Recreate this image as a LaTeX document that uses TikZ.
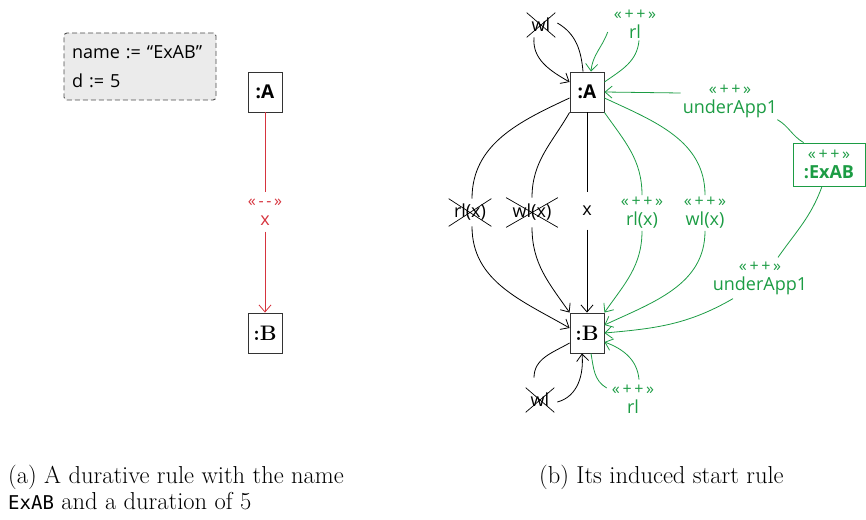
\documentclass[tikz,border=0pt]{standalone}
\usepackage{fontspec}
\usetikzlibrary{arrows.meta,shapes.misc}
\newfontfamily\dfont{Open Sans}
\newfontfamily\capmono{DejaVu Sans Mono}
\definecolor{rulered}{RGB}{214,52,62}
\definecolor{rulegreen}{RGB}{28,156,68}
\definecolor{attrfill}{RGB}{235,235,235}
\newcommand\ppst{{\fontsize{16}{17}\selectfont«\,+\,+\,»}}
\newcommand\mmst{{\fontsize{16}{17}\selectfont«\,-\,-\,»}}

\tikzset{
  lbl/.style={font=\dfont\fontsize{18}{19}\selectfont},
  objbox/.style={draw=black!80, line width=0.9pt, minimum width=34pt,
    minimum height=40pt, inner sep=0pt, fill=white},
  barbend/.style={-{Straight Barb[length=7pt,width=12pt]}},
  conn/.style={line width=0.8pt, black},
  gconn/.style={line width=0.8pt, rulegreen},
  rconn/.style={line width=0.8pt, rulered},
  xbox/.style={lbl, cross out, draw=black, line width=0.7pt,
    minimum width=28pt, minimum height=24pt, inner sep=0pt},
  glbl/.style={lbl, text=rulegreen, align=center, inner sep=2pt},
  rlbl/.style={lbl, text=rulered, align=center, inner sep=2pt},
  gbox/.style={lbl, draw=rulegreen, text=rulegreen, line width=0.9pt,
    align=center, minimum width=72pt, minimum height=43pt, inner sep=0pt},
  attr/.style={draw=black!70, dash pattern=on 5pt off 3pt, rounded corners=3pt,
    fill=attrfill, line width=0.9pt, text width=136pt, align=left,
    minimum height=67pt, inner xsep=8pt,
    font=\dfont\fontsize{18}{29}\selectfont},
  captxt/.style={font=\fontsize{24.5}{26}\selectfont, inner sep=0pt, anchor=base west}
}

\begin{document}
\begin{tikzpicture}[x=1pt,y=1pt]
\path[use as bounding box] (0,0) rectangle (866,-519);

% ---- (a) durative rule ----
\node[attr] (attrs) at (140,-66.5) {name := “ExAB”\\d := 5};
\node[objbox,font=\dfont\bfseries\fontsize{19}{19}\selectfont] (lA) at (265,-92) {:A};
\node[objbox,font=\rmfamily\bfseries\fontsize{21}{21}\selectfont] (lB) at (265,-333) {:B};
\node[rlbl,minimum height=39pt] (lx) at (265,-212) {\mmst\\x};
\draw[rconn] (lA) -- (lx);
\draw[rconn,barbend] (lx) -- (lB);

% ---- (b) induced start rule ----
\node[objbox,font=\dfont\bfseries\fontsize{19}{19}\selectfont] (rA) at (587,-92) {:A};
\node[objbox,font=\rmfamily\bfseries\fontsize{21}{21}\selectfont] (rB) at (587,-333) {:B};

% loops on :A
\node[xbox] (wlA) at (541,-25) {wl};
\draw[conn] ([xshift=-4pt]rA.north) to[out=95,in=-30] ([xshift=2pt,yshift=2pt]wlA.east);
\draw[conn,barbend] ([xshift=-7pt]wlA.south) to[out=-95,in=150] ([yshift=10pt]rA.west);

\node[glbl] (rlA) at (635,-24) {\ppst\\rl};
\draw[gconn] ([yshift=10pt]rA.east) to[out=35,in=-95] ([xshift=4pt]rlA.south);
\draw[gconn,barbend] ([xshift=-4pt,yshift=-8pt]rlA.west) to[out=-110,in=85] ([xshift=4pt]rA.north);

% application condition object
\node[gbox] (ExAB) at (829,-164.5) {\ppst\\\textbf{:ExAB}};
\node[glbl] (uA1) at (730,-101) {\ppst\\underApp1};
\draw[gconn] ([xshift=11pt]ExAB.north west) to[out=150,in=-30] ([xshift=-2pt]uA1.south east);
\draw[gconn,barbend] ([yshift=8pt]uA1.west) -- (rA.east);

\node[glbl] (uA2) at (760,-278) {\ppst\\underApp1};
\draw[gconn] ([xshift=-7pt]ExAB.south) to[out=-110,in=55] ([xshift=18pt,yshift=2pt]uA2.north);
\draw[gconn,barbend] ([xshift=-27pt,yshift=-2pt]uA2.south) to[out=-150,in=5] (rB.east);

% edges from :A to :B
\node[xbox,minimum width=42pt,minimum height=27pt] (rlx) at (470,-212.5) {rl(x)};
\node[xbox,minimum width=51pt,minimum height=29pt] (wlx) at (532,-212.5) {wl(x)};
\node[lbl,minimum height=37pt,inner sep=0pt] (xl) at (587,-211) {x};
\node[glbl] (grx) at (642,-213) {\ppst\\rl(x)};
\node[glbl] (gwx) at (705,-213) {\ppst\\wl(x)};

\draw[conn] ([yshift=-6pt]rA.west) to[out=205,in=90] ([xshift=2pt]rlx.north);
\draw[conn,barbend] ([xshift=2pt]rlx.south) to[out=-90,in=150] ([yshift=5pt]rB.west);
\draw[conn] (rA.south west) to[out=240,in=90] (wlx.north);
\draw[conn,barbend] (wlx.south) to[out=-90,in=125] (rB.north west);
\draw[conn] (rA) -- (xl);
\draw[conn,barbend] (xl) -- (rB);
\draw[gconn] (rA.south east) to[out=-55,in=90] (grx.north);
\draw[gconn,barbend] (grx.south) to[out=-90,in=55] (rB.north east);
\draw[gconn] ([yshift=-6pt]rA.east) to[out=-25,in=90] (gwx.north);
\draw[gconn,barbend] (gwx.south) to[out=-90,in=25] ([yshift=8pt]rB.east);

% loops on :B
\node[xbox] (wlB) at (540,-400) {wl};
\draw[conn] ([yshift=-10pt]rB.west) to[out=210,in=90] ([xshift=-6pt,yshift=10pt]wlB.north);
\draw[conn,barbend] ([xshift=3pt,yshift=-2pt]wlB.east) to[out=15,in=-85] ([xshift=-5pt]rB.south);

\node[glbl] (rlB) at (633,-399) {\ppst\\rl};
\draw[gconn] ([xshift=4pt]rB.south) to[out=-80,in=150] ([xshift=-3pt,yshift=11pt]rlB.west);
\draw[gconn,barbend] ([xshift=6pt,yshift=3pt]rlB.north) to[out=95,in=-20] ([yshift=-9pt]rB.east);

% captions
\node[captxt] (capa1) at (8,-483) {(a) A durative rule with the name};
\node[captxt] (capa2) at (8,-509) {{\capmono\fontsize{19}{19}\selectfont ExAB} and a duration of 5};
\node[captxt] (capb) at (539,-483) {(b) Its induced start rule};
\end{tikzpicture}
\end{document}
